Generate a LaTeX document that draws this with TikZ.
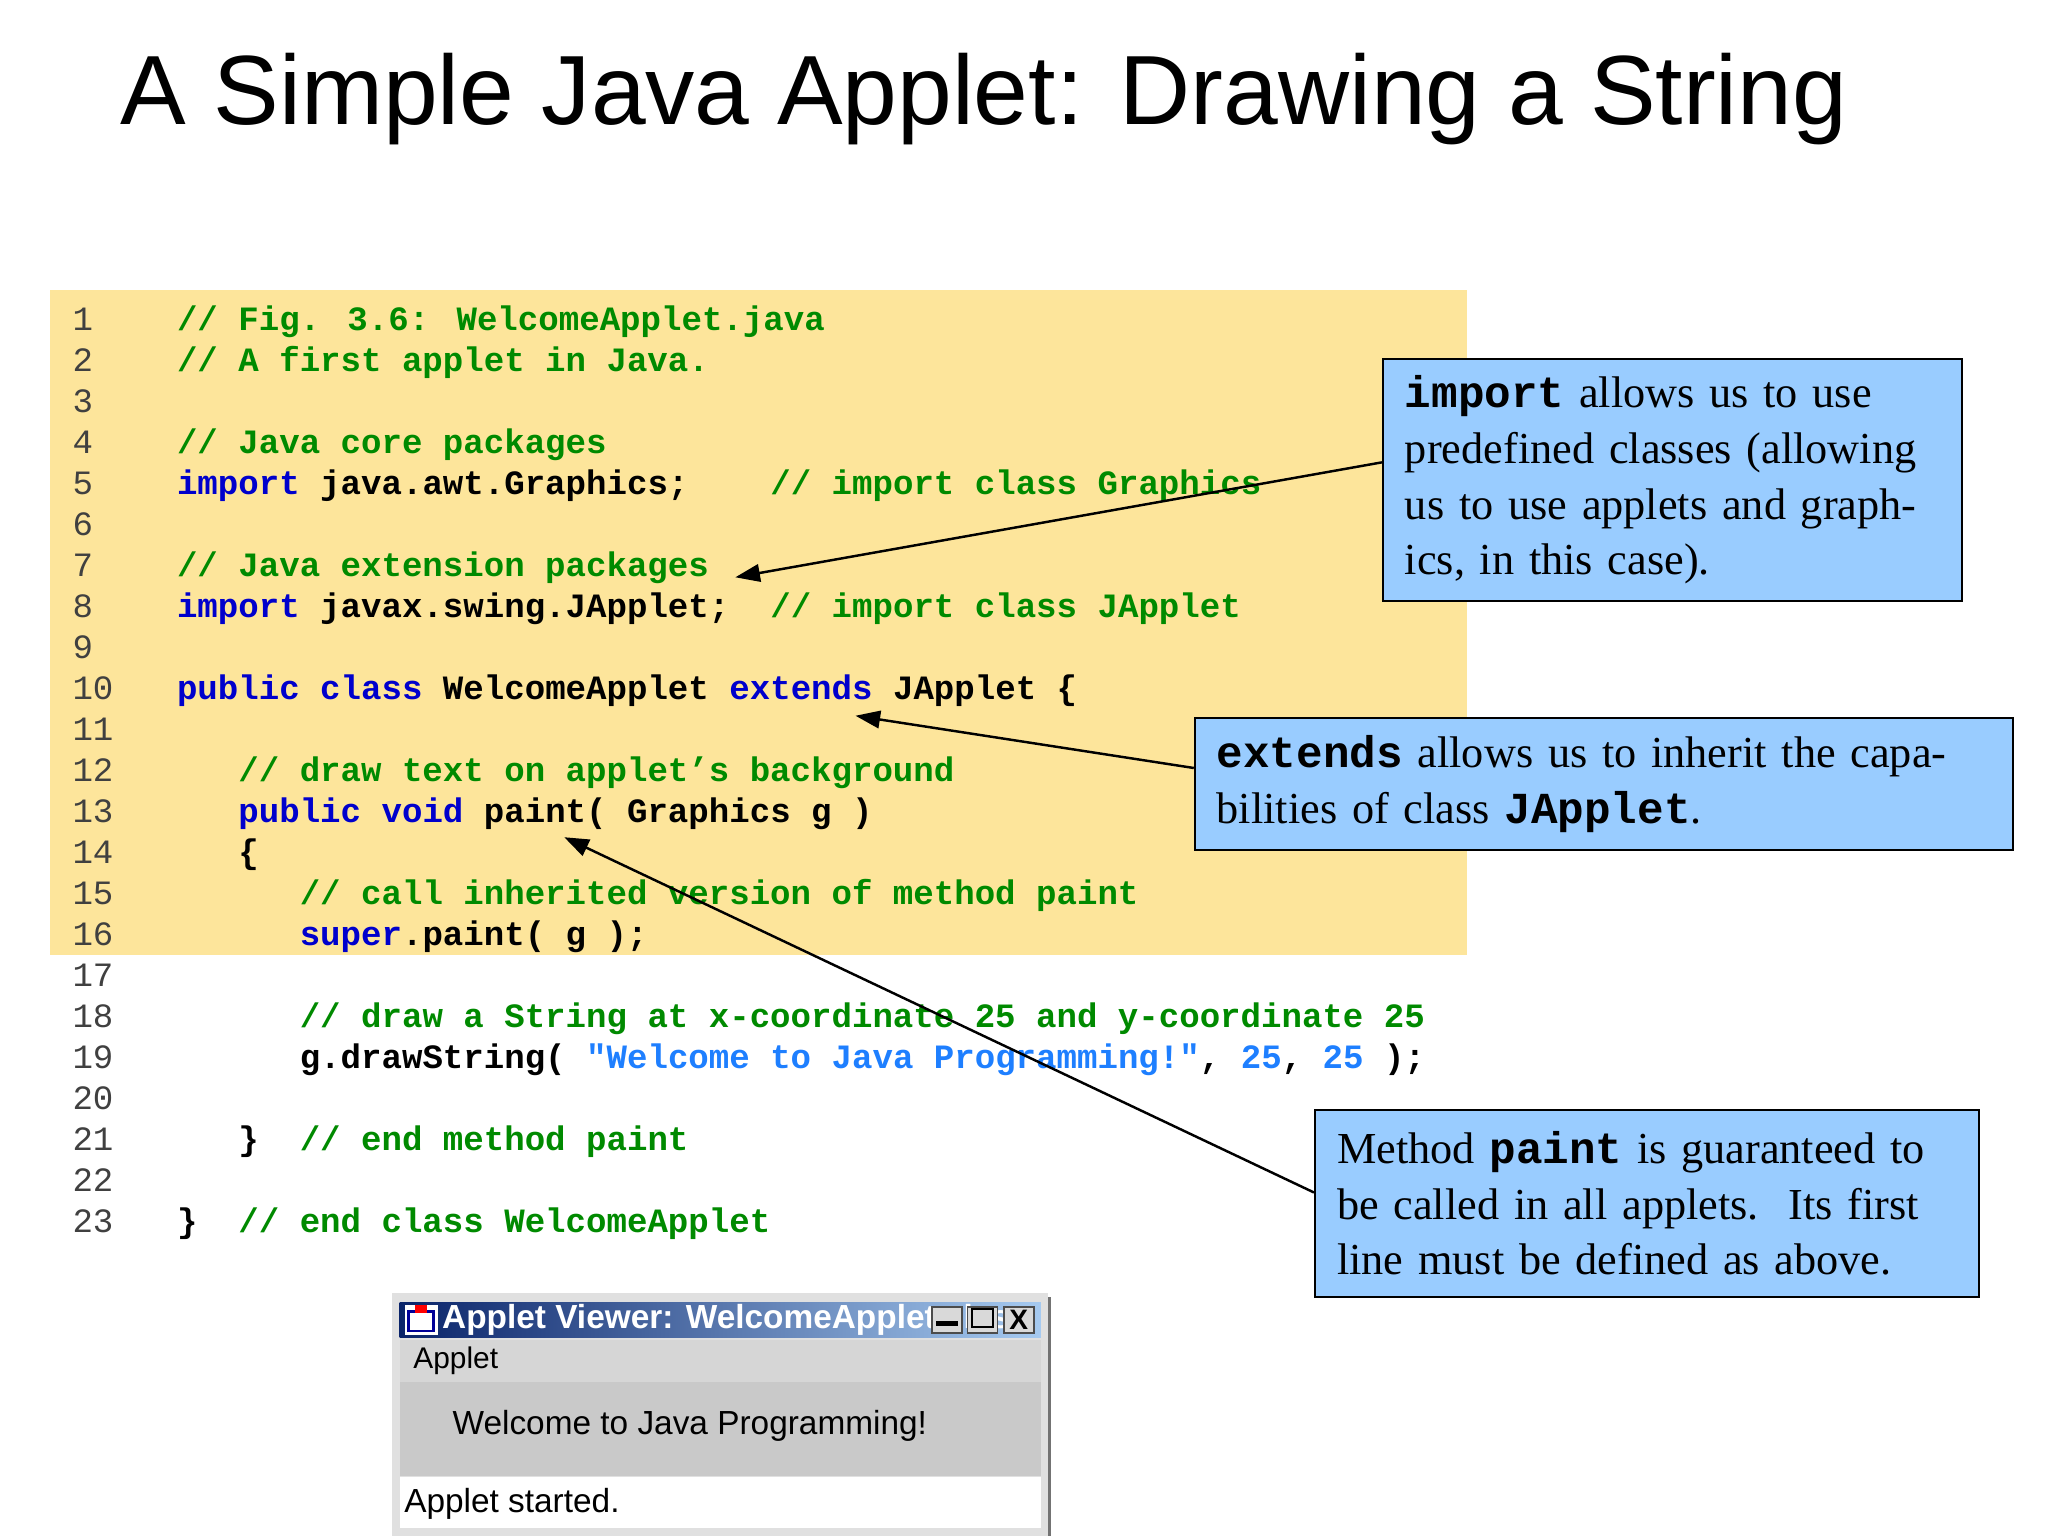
\documentclass[tikz,border=0pt]{standalone}
\usepackage{fontspec}
\setmainfont{Liberation Serif}
\setsansfont{Liberation Sans}
\newfontfamily\codefont{Liberation Mono}
\usetikzlibrary{arrows.meta,positioning}
\definecolor{codebg}{HTML}{FDE59B}
\definecolor{notebg}{HTML}{99CCFF}
\definecolor{cmtgreen}{HTML}{008A00}
\definecolor{kwblue}{HTML}{0000CC}
\definecolor{strblue}{HTML}{1E7FFF}
\newcommand\cmt[1]{\textcolor{cmtgreen}{#1}}
\newcommand\kw[1]{\textcolor{kwblue}{#1}}
\newcommand\strg[1]{\textcolor{strblue}{#1}}
\newcommand\sk[1]{\hspace*{#1\fontcharwd\font`x}}
\newcommand\tcode[1]{{\codefont\bfseries #1}}
\tikzset{
  codeline/.style={anchor=base west,inner sep=0pt,font=\codefont\bfseries\fontsize{9.7}{11}\selectfont},
  lineno/.style={anchor=base west,inner sep=0pt,text=black!75,font=\codefont\fontsize{9.7}{11}\selectfont},
  note/.style={draw=black,fill=notebg,anchor=north west,align=left,inner xsep=0.22cm,
    font=\fontsize{12.6}{15.8}\selectfont,line width=0.6pt},
  pointer/.style={-{Triangle[length=7pt,width=5pt]},line width=0.7pt},
  winbtn/.style={draw=black!70,fill=black!15,minimum width=0.3cm,minimum height=0.26cm,inner sep=0pt,anchor=north west},
}
\begin{document}
\begin{tikzpicture}[x=0.01306cm,y=-0.01306cm]
\useasboundingbox (0,0) rectangle (1568,1176);
\fill[white] (0,0) rectangle (1568,1176);
% title
\node[anchor=base west,inner sep=0pt,font=\sffamily\fontsize{28}{30}\selectfont] (title) at (92,95) {A Simple Java Applet: Drawing a String};
% code listing
\fill[codebg] (38,222) rectangle (1123,731);
\foreach \n in {1,...,23}
  \node[lineno] (n\n) at (55,{253+(\n-1)*31.4}) {\n};
\node[codeline] (c1) at (135,253) {\cmt{// Fig. 3.6: WelcomeApplet.java}};
\node[codeline] (c2) at (135,284.4) {\cmt{// A first applet in Java.}};
\node[codeline] (c4) at (135,347.2) {\cmt{// Java core packages}};
\node[codeline] (c5) at (135,378.6) {\kw{import} java.awt.Graphics;\sk{4}\cmt{// import class Graphics}};
\node[codeline] (c7) at (135,441.4) {\cmt{// Java extension packages}};
\node[codeline] (c8) at (135,472.8) {\kw{import} javax.swing.JApplet;\sk{2}\cmt{// import class JApplet}};
\node[codeline] (c10) at (135,535.6) {\kw{public} \kw{class} WelcomeApplet \kw{extends} JApplet \{};
\node[codeline] (c12) at (135,598.4) {\sk{3}\cmt{// draw text on applet’s background}};
\node[codeline] (c13) at (135,629.8) {\sk{3}\kw{public} \kw{void} paint( Graphics g )};
\node[codeline] (c14) at (135,661.2) {\sk{3}\{};
\node[codeline] (c15) at (135,692.6) {\sk{6}\cmt{// call inherited version of method paint}};
\node[codeline] (c16) at (135,724) {\sk{6}\kw{super}.paint( g );};
\node[codeline] (c18) at (135,786.8) {\sk{6}\cmt{// draw a String at x-coordinate 25 and y-coordinate 25}};
\node[codeline] (c19) at (135,818.2) {\sk{6}g.drawString( \strg{"Welcome to Java Programming!"}, \strg{25}, \strg{25} );};
\node[codeline] (c21) at (135,881) {\sk{3}\}\sk{2}\cmt{// end method paint}};
\node[codeline] (c23) at (135,943.8) {\}\sk{2}\cmt{// end class WelcomeApplet}};
% notes
\node[note,text width=5.35cm,minimum height=2.42cm] (importnote) at (1058,274)
  {\tcode{import} allows us to use predefined classes (allowing us to use applets and graphics, in this case).};
\node[note,text width=7.74cm,minimum height=1.32cm] (extendsnote) at (914,549)
  {\tcode{extends} allows us to inherit the capabilities of class \tcode{JApplet}.};
\node[note,text width=6.2cm,minimum height=1.87cm] (paintnote) at (1006,849)
  {Method \tcode{paint} is guaranteed to be called in all applets.\ \ Its first line must be defined as above.};
\coordinate (importtip) at (563,442);
\coordinate (extendstip) at (655,548);
\coordinate (painttip) at (432,641);
\draw[pointer] (importnote.west |- 0,354) -- (importtip);
\draw[pointer] (extendsnote.west |- 0,588) -- (extendstip);
\draw[pointer] (paintnote.west |- 0,913) -- (painttip);
% applet viewer window
\fill[black!55] (303,993) rectangle (805,1176);
\fill[black!12] (300,990) rectangle (802,1176);
\shade[left color={rgb,255:red,10;green,36;blue,106},right color={rgb,255:red,166;green,202;blue,240}] (306,997) rectangle (797,1024);
\fill[white] (310,999) rectangle (335,1022);
\draw[blue!60!black,line width=0.8pt] (313,1004) rectangle (332,1019);
\fill[red] (318,999) rectangle (327,1005);
\node[anchor=base west,inner sep=0pt,text=white,font=\sffamily\bfseries\fontsize{9.5}{10}\selectfont] (wintitle) at (338,1017) {Applet Viewer: WelcomeApplet.class};
\node[winbtn] (minbtn) at (713,1000) {};
\node[winbtn] (maxbtn) at (740,1000) {};
\node[winbtn,font=\sffamily\bfseries\fontsize{8}{8}\selectfont] (closebtn) at (768,1000) {X};
\fill[black] ([xshift=-3pt,yshift=2pt]minbtn.south) rectangle ([xshift=3pt,yshift=3.5pt]minbtn.south);
\draw[black,line width=0.6pt] ([shift={(-3pt,-2pt)}]maxbtn.center) rectangle ([shift={(3pt,3pt)}]maxbtn.center);
\fill[black!16] (306,1026) rectangle (797,1058);
\node[anchor=base west,inner sep=0pt,font=\sffamily\fontsize{8.5}{9}\selectfont] (menu) at (316,1048) {Applet};
\fill[black!21] (306,1058) rectangle (797,1130);
\node[anchor=base west,inner sep=0pt,font=\sffamily\fontsize{9.5}{10}\selectfont] (welcome) at (346,1098) {Welcome to Java Programming!};
\fill[white] (306,1131) rectangle (797,1170);
\node[anchor=base west,inner sep=0pt,font=\sffamily\fontsize{9.5}{10}\selectfont] (status) at (309,1158) {Applet started.};
\end{tikzpicture}
\end{document}
